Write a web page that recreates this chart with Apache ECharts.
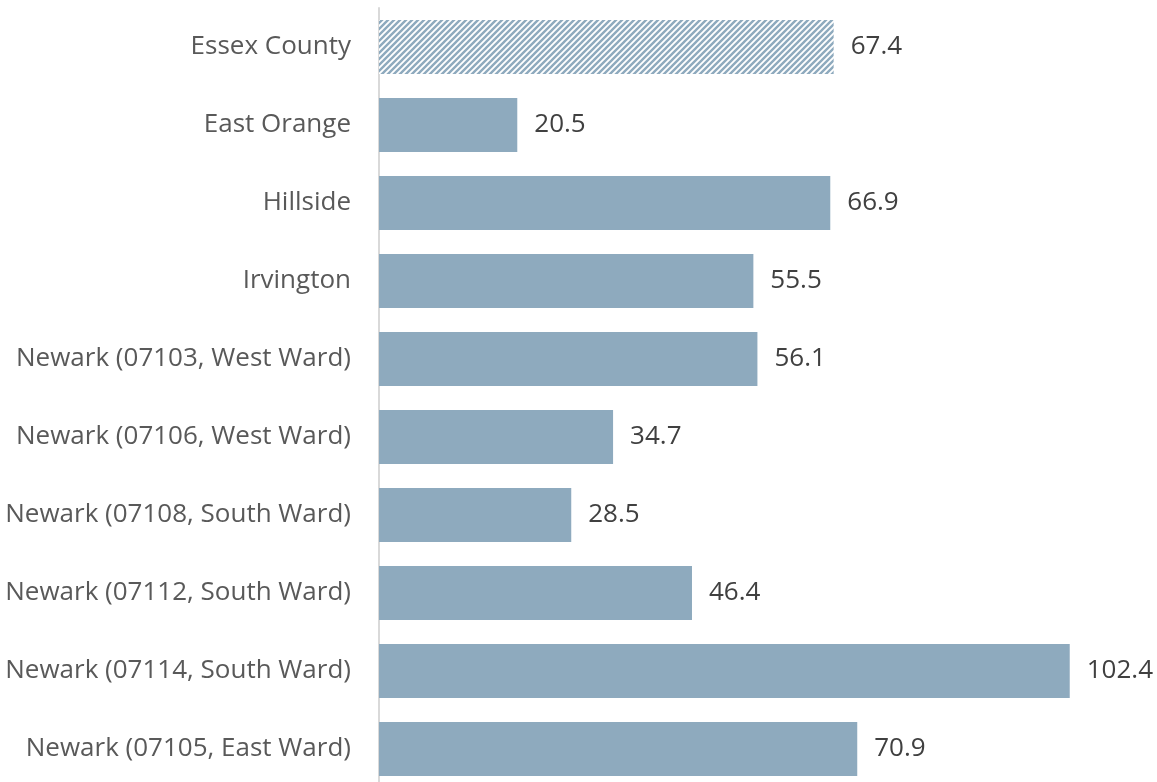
<!DOCTYPE html>
<html>
<head>
<meta charset="utf-8">
<script src="https://cdn.jsdelivr.net/npm/echarts@6/dist/echarts.min.js"></script>
<style>
  html, body { margin: 0; padding: 0; background: #ffffff; }
  #chart { width: 1157px; height: 782px; }
</style>
</head>
<body>
<div id="chart"></div>
<script>
// Place names, top to bottom
const categories = [
  'Essex County',
  'East Orange',
  'Hillside',
  'Irvington',
  'Newark (07103, West Ward)',
  'Newark (07106, West Ward)',
  'Newark (07108, South Ward)',
  'Newark (07112, South Ward)',
  'Newark (07114, South Ward)',
  'Newark (07105, East Ward)'
];
const values = [67.4, 20.5, 66.9, 55.5, 56.1, 34.7, 28.5, 46.4, 102.4, 70.9];
// The county-wide reference bar is drawn hatched
const hatchedIndex = [0];

const barColor = '#8eaabe';

// Diagonal stripe tile for the hatched bar
function stripeTile() {
  const c = document.createElement('canvas');
  const s = 6;
  c.width = s; c.height = s;
  const ctx = c.getContext('2d');
  ctx.fillStyle = '#ffffff';
  ctx.fillRect(0, 0, s, s);
  ctx.strokeStyle = barColor;
  ctx.lineWidth = 2.4;
  ctx.beginPath();
  ctx.moveTo(-1, s + 1); ctx.lineTo(s + 1, -1);
  ctx.moveTo(-1, 1); ctx.lineTo(1, -1);
  ctx.moveTo(s - 1, s + 1); ctx.lineTo(s + 1, s - 1);
  ctx.stroke();
  return c;
}
const stripe = { image: stripeTile(), repeat: 'repeat' };

const chart = echarts.init(document.getElementById('chart'), null, { renderer: 'canvas' });

chart.setOption({
  animation: false,
  backgroundColor: '#ffffff',
  // the plot runs slightly past the bottom edge of the canvas
  grid: {
    left: 379, right: 36, top: 8, height: 780,
    containLabel: false,
    outerBoundsMode: 'none'
  },
  xAxis: {
    type: 'value',
    min: 0,
    max: 110,
    show: false
  },
  yAxis: {
    type: 'category',
    data: categories,
    inverse: true,
    axisLine: { show: true, lineStyle: { color: '#d9d9d9', width: 2 } },
    axisTick: { show: false },
    axisLabel: {
      margin: 28,
      color: '#595959',
      fontFamily: 'Open Sans',
      fontSize: 26
    }
  },
  series: [{
    type: 'bar',
    barCategoryGap: '31%',
    data: values.map((v, i) => ({
      value: v,
      itemStyle: { color: hatchedIndex.includes(i) ? stripe : barColor }
    })),
    label: {
      show: true,
      position: 'right',
      distance: 17,
      color: '#404040',
      fontFamily: 'Open Sans',
      fontSize: 26,
      formatter: p => p.value.toFixed(1)
    }
  }]
});
</script>
</body>
</html>
